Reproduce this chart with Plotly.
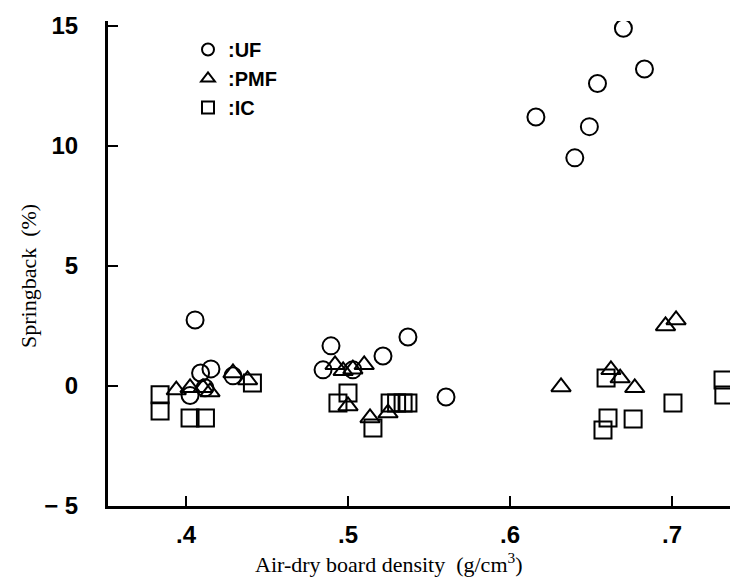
import plotly.graph_objects as go

# UF (circles)
uf_x = [0.4056, 0.4154, 0.409, 0.4117, 0.4025, 0.429, 0.4846, 0.4895, 0.503, 0.5216, 0.537, 0.5605,
        0.616, 0.640, 0.649, 0.654, 0.670, 0.683]
uf_y = [2.75, 0.71, 0.54, -0.08, -0.40, 0.42, 0.67, 1.67, 0.67, 1.25, 2.04, -0.46,
        11.2, 9.5, 10.8, 12.6, 14.9, 13.2]
# PMF (triangles)
pmf_x = [0.394, 0.4025, 0.4105, 0.4148, 0.429, 0.438, 0.492, 0.497, 0.503, 0.510, 0.500, 0.5136, 0.5247,
         0.6315, 0.6623, 0.668, 0.677, 0.696, 0.7025]
pmf_y = [-0.17, -0.08, -0.08, -0.25, 0.54, 0.25, 0.88, 0.63, 0.70, 0.88, -0.83, -1.33, -1.13,
         -0.04, 0.67, 0.33, -0.08, 2.5, 2.75]
# IC (squares)
ic_x = [0.384, 0.384, 0.4025, 0.412, 0.441, 0.4938, 0.500, 0.5154, 0.526, 0.530, 0.534, 0.537,
        0.6593, 0.6605, 0.6574, 0.676, 0.7006, 0.7315, 0.732]
ic_y = [-0.37, -1.04, -1.33, -1.33, 0.12, -0.71, -0.29, -1.75, -0.71, -0.71, -0.71, -0.71,
        0.33, -1.33, -1.83, -1.38, -0.71, 0.25, -0.38]

x_ticks = [0.4, 0.5, 0.6, 0.7]
x_ticktext = [".4", ".5", ".6", ".7"]
y_ticks = [-5, 0, 5, 10, 15]
y_ticktext = ["\u2212 5", "0", "5", "10", "15"]

series = [
    (":UF", uf_x, uf_y, "circle-open", 17),
    (":PMF", pmf_x, pmf_y, "triangle-up-open", 17),
    (":IC", ic_x, ic_y, "square-open", 17),
]

fig = go.Figure()
for name, xs, ys, sym, sz in series:
    fig.add_trace(go.Scatter(
        x=xs, y=ys, mode="markers", name=name,
        marker=dict(symbol=sym, size=sz, color="black", line=dict(color="black", width=2)),
    ))

tickfont = dict(family="Liberation Sans, Arial", size=24, color="black", weight="bold")
serif = "Liberation Serif, Times New Roman, serif"

# plot area in pixels
L, R, T, B = 100, 0, 13, 85
W, H = 738, 583
pw = W - L - R
ph = H - T - B

def px_x(px):
    return (px - L) / pw

def px_y(py):
    return (H - B - py) / ph

fig.update_layout(
    width=W, height=H,
    margin=dict(l=L, r=R, t=T, b=B),
    paper_bgcolor="white", plot_bgcolor="white",
    showlegend=True,
    legend=dict(x=px_x(180), y=px_y(22), xanchor="left", yanchor="top",
                font=dict(family="Liberation Sans, Arial", size=20, color="black", weight="bold"),
                bgcolor="rgba(0,0,0,0)", itemsizing="constant", tracegroupgap=0),
    xaxis=dict(range=[0.35185, 0.74568], tickvals=x_ticks, ticktext=x_ticktext,
               ticks="inside", ticklen=10, tickwidth=2, tickcolor="black",
               showline=True, linewidth=3, linecolor="black", showgrid=False, zeroline=False,
               tickfont=tickfont, ticklabelstandoff=5),
    yaxis=dict(range=[-5, 15.2], tickvals=y_ticks, ticktext=y_ticktext,
               ticks="inside", ticklen=10, tickwidth=2, tickcolor="black",
               showline=True, linewidth=3, linecolor="black", showgrid=False, zeroline=False,
               tickfont=tickfont, ticklabelstandoff=22),
    annotations=[
        dict(text="Springback  (%)", x=px_x(20), y=px_y(268), xref="paper", yref="paper",
             xanchor="center", yanchor="middle", showarrow=False, textangle=-90,
             font=dict(family=serif, size=22, color="black")),
        dict(text="Air-dry board density  (g/cm<sup>3</sup>)", x=px_x(381), y=px_y(555),
             xref="paper", yref="paper", xanchor="center", yanchor="middle", showarrow=False,
             font=dict(family=serif, size=22, color="black")),
    ],
)

fig.write_html("out.html")
